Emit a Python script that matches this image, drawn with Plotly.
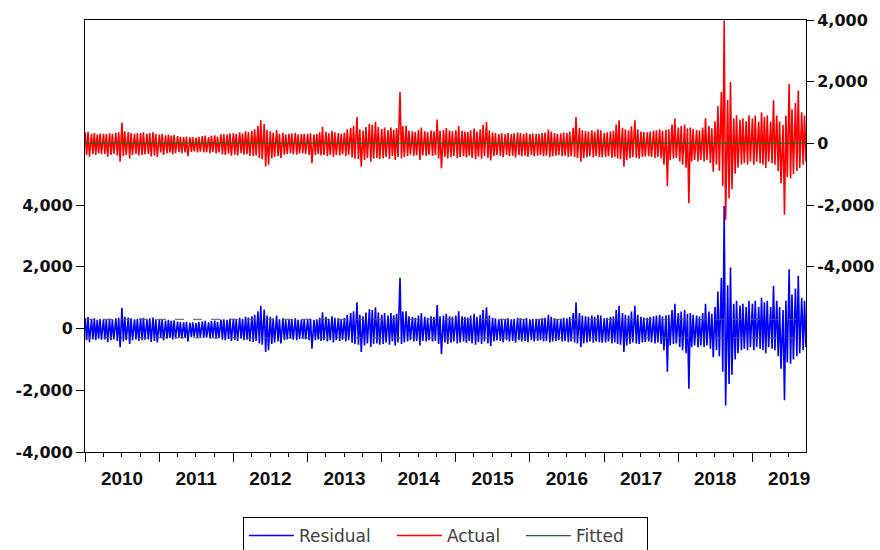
import pandas as pd
import plotly.graph_objects as go

# ---------------- data ----------------
# semi-monthly upper / lower envelope of the residual series
hi_2010 = [340,370,300,330,280,310,300,290,320,300,330,350,670,380,360,330,300,320,330,350,300,330,360,300]
lo_2010 = [-380,-440,-350,-380,-330,-360,-350,-440,-380,-350,-400,-600,-420,-380,-500,-380,-350,-400,-380,-360,-350,-430,-400,-450]
hi_2011 = [280,300,260,280,250,270,230,210,200,220,190,200,180,210,230,250,200,240,260,220,290,300,280,320]
lo_2011 = [-300,-380,-330,-300,-350,-320,-280,-320,-300,-420,-280,-260,-300,-270,-300,-290,-320,-280,-330,-300,-360,-380,-340,-400]
hi_2012 = [320,300,350,310,380,360,400,450,560,740,620,420,380,330,420,300,330,280,300,310,330,280,290,300]
lo_2012 = [-380,-400,-330,-380,-360,-420,-430,-400,-480,-520,-760,-700,-500,-450,-420,-480,-380,-350,-330,-360,-380,-340,-330,-350]
hi_2013 = [300,320,280,300,350,530,380,320,400,350,330,300,340,450,500,560,850,450,400,520,630,600,690,520]
lo_2013 = [-380,-650,-380,-350,-400,-380,-420,-380,-450,-380,-400,-360,-420,-380,-460,-500,-520,-760,-550,-480,-600,-500,-480,-520]
hi_2014 = [450,500,420,500,430,480,1650,550,560,400,380,350,420,500,380,350,400,380,760,400,420,480,400,380]
lo_2014 = [-500,-450,-520,-420,-550,-450,-500,-450,-420,-380,-420,-400,-550,-400,-420,-380,-420,-400,-500,-820,-450,-500,-460,-420]
hi_2015 = [420,560,400,380,360,420,480,380,450,600,690,420,350,330,300,320,300,330,300,320,350,330,300,340]
lo_2015 = [-480,-450,-420,-460,-400,-480,-520,-440,-500,-420,-480,-560,-420,-380,-400,-450,-380,-420,-400,-460,-380,-420,-400,-440]
hi_2016 = [300,320,310,300,330,350,450,380,330,310,320,350,330,380,500,850,500,420,400,380,420,380,450,420]
lo_2016 = [-380,-420,-400,-380,-420,-400,-450,-420,-400,-380,-420,-400,-440,-420,-450,-480,-600,-480,-450,-420,-460,-420,-440,-460]
hi_2017 = [330,350,380,400,600,740,500,450,420,550,740,450,380,360,350,380,400,420,450,400,430,450,600,800]
lo_2017 = [-450,-420,-480,-450,-500,-520,-760,-550,-500,-450,-480,-500,-450,-430,-420,-450,-480,-450,-500,-700,-1400,-550,-500,-480]
hi_2018 = [500,550,600,480,500,450,420,400,500,800,550,480,700,1200,1650,3970,1400,1980,800,900,750,800,700,900]
lo_2018 = [-600,-700,-800,-1950,-600,-550,-600,-550,-600,-550,-650,-930,-700,-900,-1400,-2490,-1800,-1500,-1000,-800,-700,-650,-700,-600]
hi_2019 = [800,900,700,1000,850,900,700,1390,900,700,600,900,1920,1100,1300,1710,1000,900]
lo_2019 = [-700,-600,-650,-700,-800,-600,-650,-700,-900,-1300,-2320,-1100,-1140,-1000,-900,-800,-700,-600]

years = [2010, 2011, 2012, 2013, 2014, 2015, 2016, 2017, 2018, 2019]
fitted_by_year = [10, 5, 12, 8, 15, 6, 4, 9, 14, 7]
resid_se = 300

left_ticks = [-4000, -2000, 0, 2000, 4000]
left_ticktext = ["-4,000", "-2,000", "0", "2,000", "4,000"]
right_ticks = [-4000, -2000, 0, 2000, 4000]
right_ticktext = ["-4,000", "-2,000", "0", "2,000", "4,000"]

# ---------------- build series ----------------
hi_all = (hi_2010 + hi_2011 + hi_2012 + hi_2013 + hi_2014 + hi_2015 + hi_2016
          + hi_2017 + hi_2018 + hi_2019)
lo_all = (lo_2010 + lo_2011 + lo_2012 + lo_2013 + lo_2014 + lo_2015 + lo_2016
          + lo_2017 + lo_2018 + lo_2019)
periods = pd.date_range("2010-01-01", periods=len(hi_all), freq="SMS")

x, resid = [], []
for d, h, l in zip(periods, hi_all, lo_all):
    x.append(d + pd.Timedelta(days=1)); resid.append(h)
    x.append(d + pd.Timedelta(days=8)); resid.append(l)
fit_map = dict(zip(years, fitted_by_year))
fitted = [fit_map[t.year] for t in x]
actual = [r + f for r, f in zip(resid, fitted)]

x0 = pd.Timestamp("2010-01-01")
x1 = x[-1]

fig = go.Figure()
fig.add_trace(go.Scatter(x=x, y=resid, name="Residual", mode="lines",
                         line=dict(color="#0000ff", width=1.6), yaxis="y",
                         legendwidth=88))
fig.add_trace(go.Scatter(x=[x0, x1], y=[resid_se, resid_se], mode="lines",
                         line=dict(color="#555555", width=1, dash="dash"),
                         showlegend=False, hoverinfo="skip", yaxis="y"))
fig.add_trace(go.Scatter(x=[x0, x1], y=[-resid_se, -resid_se], mode="lines",
                         line=dict(color="#555555", width=1, dash="dash"),
                         showlegend=False, hoverinfo="skip", yaxis="y"))
fig.add_trace(go.Scatter(x=x, y=actual, name="Actual", mode="lines",
                         line=dict(color="#ff0000", width=1.6), yaxis="y2",
                         legendwidth=69))
fig.add_trace(go.Scatter(x=x, y=fitted, name="Fitted", mode="lines",
                         line=dict(color="#1f6b1f", width=1.2), yaxis="y2",
                         legendwidth=66))

tickfont_y = dict(family="DejaVu Sans", size=16, color="#111111", weight="bold")
fig.update_layout(
    width=880, height=550,
    margin=dict(l=85, r=74, t=20, b=98, autoexpand=False),
    paper_bgcolor="white", plot_bgcolor="white",
    showlegend=True,
    legend=dict(orientation="h", xref="container", yref="container",
                x=0.276, xanchor="left", y=0.060, yanchor="top",
                bordercolor="#000000", borderwidth=1,
                font=dict(family="DejaVu Sans", size=17, color="#404040"),
                itemwidth=45, tracegroupgap=0),
    xaxis=dict(type="date", range=[x0, x1], showgrid=False, zeroline=False,
               automargin=False,
               showline=True, linecolor="#000000", linewidth=1, mirror=True,
               ticks="outside", ticklen=9, tickcolor="#000000", tickwidth=1,
               dtick="M12", tick0="2010-01-01", tickformat="%Y",
               ticklabelmode="period",
               minor=dict(dtick="M3", ticks="outside", ticklen=4,
                          tickcolor="#000000", showgrid=False),
               tickfont=dict(family="Liberation Sans", size=19, color="#111111",
                             weight="bold")),
    yaxis=dict(range=[-4000, 10000], showgrid=False, zeroline=False,
               automargin=False,
               showline=True, linecolor="#000000", linewidth=1,
               ticks="outside", ticklen=8, tickcolor="#000000",
               tickvals=left_ticks, ticktext=left_ticktext, tickfont=tickfont_y),
    yaxis2=dict(range=[-10000, 4000], overlaying="y", side="right",
                automargin=False,
                showgrid=False, zeroline=False,
                showline=True, linecolor="#000000", linewidth=1,
                ticks="outside", ticklen=7, tickcolor="#000000",
                tickvals=right_ticks, ticktext=right_ticktext, tickfont=tickfont_y),
)

fig.write_html("out.html")
